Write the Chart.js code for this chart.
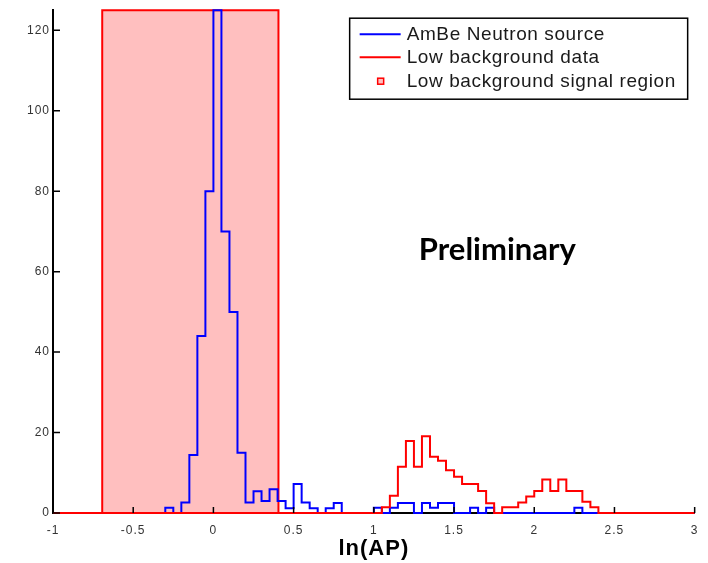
<!DOCTYPE html>
<html>
<head>
<meta charset="utf-8">
<script src="https://cdn.jsdelivr.net/npm/chart.js@4.4.1/dist/chart.umd.min.js"></script>
<style>
  html, body { margin: 0; padding: 0; background: #fff; }
  #wrap { position: relative; width: 708px; height: 563px; }
</style>
</head>
<body>
<div id="wrap"><canvas id="histChart"></canvas></div>
<script>
// histogram bins, 0.05 wide in ln(AP)
const binWidth = 0.05;

const ambeStart = -0.3;
const ambeCounts = [1.3, 0, 2.6, 14.4, 44, 80, 125, 70, 50, 15,
                    2.6, 5.4, 3, 5.9, 3, 1.2, 7.2, 2.6, 1.2, 0,
                    1.2, 2.5, 0, 0, 0, 0, 1.3, 0, 1.3, 2.5,
                    2.5, 0, 2.5, 1.3, 2.5, 2.5, 0, 0, 1.3, 0,
                    1.3, 0, 0, 0, 0, 0, 0, 0, 0, 0,
                    0, 1.3];

const lowBgStart = 1.05;
const lowBgCounts = [1.4, 4.3, 11.5, 17.9, 11.5, 19.1, 14, 13, 10.6, 9,
                     7.2, 7.2, 5.5, 2.4, 0, 1.4, 1.4, 2.6, 4.1, 5.5,
                     8.3, 5.5, 8.3, 5.5, 5.5, 2.8, 1.4];

const signalRegion = [Math.log(0.5), Math.log(1.5)];

const xRange = [-1, 3];
const yRange = [0, 125];
const xTicks = [-1, -0.5, 0, 0.5, 1, 1.5, 2, 2.5, 3];
const yTicks = [0, 20, 40, 60, 80, 100, 120];

const seriesLabels = ['AmBe Neutron source', 'Low background data', 'Low background signal region'];
const xTitle = 'ln(AP)';
const annotationText = 'Preliminary';
const annotationAt = { x: 1.77, y: 65.5 };

// each count holds from its bin start to the next bin start
function histPoints(start, counts) {
    const pts = [{ x: xRange[0], y: 0 }, { x: start, y: 0 }];
    counts.forEach((c, i) => pts.push({ x: +(start + (i + 1) * binWidth).toFixed(4), y: c }));
    pts.push({ x: +(start + counts.length * binWidth).toFixed(4), y: 0 });
    pts.push({ x: xRange[1], y: 0 });
    return pts;
}

const regionPoints = [
    { x: signalRegion[0], y: 0 },
    { x: signalRegion[0], y: yRange[1] },
    { x: signalRegion[1], y: yRange[1] },
    { x: signalRegion[1], y: 0 }
];

// inward tick marks like the matlab axes
const innerTicks = {
    id: 'innerTicks',
    afterDraw(chart) {
        const { ctx, chartArea, scales } = chart;
        ctx.save();
        ctx.strokeStyle = '#000';
        ctx.lineWidth = 1.5;
        ctx.beginPath();
        xTicks.forEach(v => {
            const px = scales.x.getPixelForValue(v);
            ctx.moveTo(px, chartArea.bottom);
            ctx.lineTo(px, chartArea.bottom - 6);
        });
        yTicks.forEach(v => {
            const py = scales.y.getPixelForValue(v);
            ctx.moveTo(chartArea.left, py);
            ctx.lineTo(chartArea.left + 7, py);
        });
        ctx.stroke();
        ctx.restore();
    }
};

const preliminaryLabel = {
    id: 'preliminaryLabel',
    afterDatasetsDraw(chart) {
        const { ctx, scales } = chart;
        ctx.save();
        ctx.letterSpacing = '0px';
        ctx.font = 'bold 31px Lato, "Open Sans", sans-serif';
        ctx.fillStyle = '#000';
        ctx.textAlign = 'center';
        ctx.textBaseline = 'middle';
        ctx.fillText(annotationText, scales.x.getPixelForValue(annotationAt.x), scales.y.getPixelForValue(annotationAt.y));
        ctx.restore();
    }
};

const legendBox = {
    id: 'legendBox',
    afterDraw(chart) {
        const { ctx, chartArea } = chart;
        const w = 338, h = 81;
        const left = chartArea.right - 7 - w;
        const top = chartArea.top + 8;
        const rows = [16, 39, 63];
        ctx.save();
        ctx.fillStyle = '#fff';
        ctx.fillRect(left, top, w, h);
        ctx.strokeStyle = '#000';
        ctx.lineWidth = 1.5;
        ctx.strokeRect(left, top, w, h);
        ctx.font = '19px "Liberation Sans", Arial, sans-serif';
        ctx.letterSpacing = '0.6px';
        ctx.textBaseline = 'middle';
        ctx.textAlign = 'left';
        chart.data.datasets.forEach((ds, i) => {
            const y = top + rows[i];
            if (i < 2) {
                ctx.strokeStyle = ds.borderColor;
                ctx.lineWidth = 2;
                ctx.beginPath();
                ctx.moveTo(left + 10, y);
                ctx.lineTo(left + 51, y);
                ctx.stroke();
            } else {
                ctx.fillStyle = ds.backgroundColor;
                ctx.fillRect(left + 28, y - 3, 6, 6);
                ctx.strokeStyle = ds.borderColor;
                ctx.lineWidth = 1.5;
                ctx.strokeRect(left + 28, y - 3, 6, 6);
            }
            ctx.fillStyle = '#1a1a1a';
            ctx.fillText(ds.label, left + 57, y + 1);
        });
        ctx.restore();
    }
};

const wideText = {
    id: 'wideText',
    beforeDraw(chart) {
        chart.ctx.letterSpacing = '1px';
    }
};

const ctx = document.getElementById('histChart').getContext('2d');
new Chart(ctx, {
    type: 'line',
    data: {
        datasets: [
            {
                label: seriesLabels[0],
                data: histPoints(ambeStart, ambeCounts),
                borderColor: '#0000ff',
                borderWidth: 2,
                stepped: 'after',
                pointRadius: 0,
                fill: false,
                clip: 3,
                order: 2
            },
            {
                label: seriesLabels[1],
                data: histPoints(lowBgStart, lowBgCounts),
                borderColor: '#ff0000',
                borderWidth: 2,
                stepped: 'after',
                pointRadius: 0,
                fill: false,
                clip: 3,
                order: 1
            },
            {
                label: seriesLabels[2],
                data: regionPoints,
                borderColor: '#ff0000',
                backgroundColor: 'rgba(255, 0, 0, 0.25)',
                borderWidth: 2,
                pointRadius: 0,
                tension: 0,
                fill: 'origin',
                clip: 3,
                order: 3
            }
        ]
    },
    options: {
        responsive: true,
        maintainAspectRatio: false,
        animation: false,
        layout: { padding: { left: 0, top: 7, right: 12, bottom: 0 } },
        plugins: {
            legend: { display: false },
            tooltip: { enabled: false }
        },
        scales: {
            x: {
                type: 'linear',
                min: xRange[0],
                max: xRange[1],
                grid: { display: false, drawTicks: false },
                border: { display: true, color: '#000', width: 2 },
                afterBuildTicks: scale => { scale.ticks = xTicks.map(v => ({ value: v })); },
                afterFit: scale => { scale.height = 50; },
                ticks: {
                    autoSkip: false,
                    maxRotation: 0,
                    padding: 10,
                    color: '#333',
                    font: { family: '"Liberation Sans", Arial, sans-serif', size: 12 },
                    callback: v => String(v)
                },
                title: {
                    display: true,
                    text: xTitle,
                    color: '#000',
                    font: { family: '"Liberation Sans", Arial, sans-serif', size: 22, weight: 'bold' },
                    padding: { top: 0, bottom: 1 }
                }
            },
            y: {
                type: 'linear',
                min: yRange[0],
                max: yRange[1],
                grid: { display: false, drawTicks: false },
                border: { display: true, color: '#000', width: 2 },
                afterBuildTicks: scale => { scale.ticks = yTicks.map(v => ({ value: v })); },
                afterFit: scale => { scale.width = 53; },
                ticks: {
                    padding: 3,
                    color: '#333',
                    font: { family: '"Liberation Sans", Arial, sans-serif', size: 12 }
                }
            }
        }
    },
    plugins: [wideText, innerTicks, preliminaryLabel, legendBox]
});
</script>
</body>
</html>
